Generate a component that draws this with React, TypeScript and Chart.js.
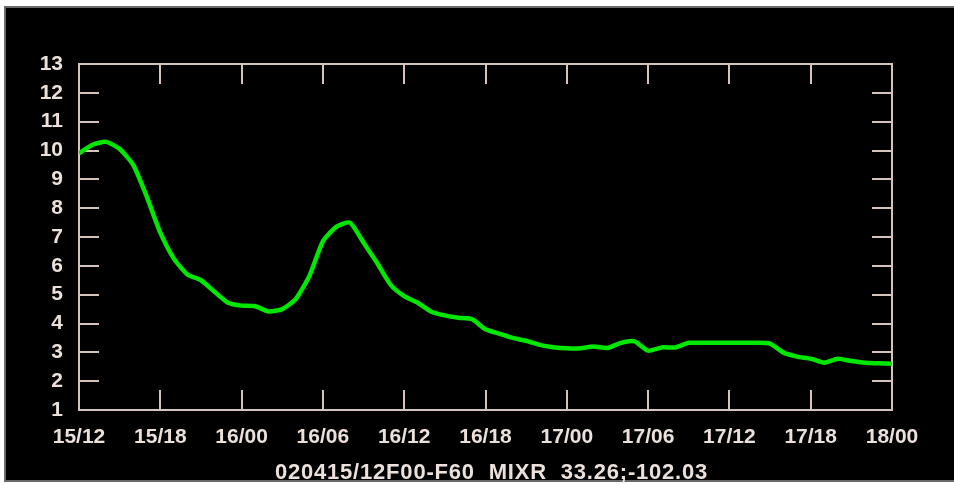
import React, { useEffect, useRef } from "react";
import { Chart, registerables } from "chart.js";

Chart.register(...registerables);

// Forecast hours F00..F60 (hourly) of mixing ratio (g/kg)
const mixr: number[] = [
  9.9, 10.2, 10.3, 10.05, 9.5, 8.4, 7.15, 6.25, 5.7, 5.5,
  5.1, 4.72, 4.62, 4.6, 4.42, 4.5, 4.85, 5.65, 6.85, 7.36,
  7.5, 6.8, 6.1, 5.34, 4.95, 4.72, 4.41, 4.28, 4.2, 4.15,
  3.8, 3.65, 3.5, 3.4, 3.26, 3.18, 3.14, 3.14, 3.2, 3.15,
  3.33, 3.38, 3.06, 3.17, 3.17, 3.33, 3.33, 3.33, 3.33, 3.33,
  3.33, 3.3, 2.99, 2.85, 2.78, 2.64, 2.78, 2.7, 2.64, 2.62,
  2.6,
];
const timeLabels: string[] = [
  "15/12", "15/18", "16/00", "16/06", "16/12", "16/18",
  "17/00", "17/06", "17/12", "17/18", "18/00",
];
const titleText = "020415/12F00-F60  MIXR  33.26;-102.03";

const FRAME = "#d6c4bc";
const LABEL = "#ece0da";
const GREEN = "#00e800";
const FONT = "'Liberation Sans', Arial, sans-serif";

export default function App() {
  const ref = useRef<HTMLCanvasElement | null>(null);
  useEffect(() => {
    if (!ref.current) return;
    const framePlugin = {
      id: "frame",
      beforeDraw(chart: any) {
        const { ctx, width, height } = chart;
        ctx.save();
        ctx.fillStyle = "#ffffff";
        ctx.fillRect(0, 0, width, height);
        ctx.fillStyle = "#000000";
        ctx.fillRect(5, 7, width - 5, 474);
        ctx.strokeStyle = "#6a6a6a";
        ctx.lineWidth = 2;
        ctx.strokeRect(5, 7, width + 5, 474);
        ctx.restore();
      },
      beforeDatasetsDraw(chart: any) {
        const { ctx, chartArea, scales } = chart;
        const { left, top, right, bottom } = chartArea;
        const x = scales.x;
        const y = scales.y;
        ctx.save();
        ctx.strokeStyle = FRAME;
        ctx.lineWidth = 2;
        ctx.strokeRect(left, top, right - left, bottom - top);
        ctx.beginPath();
        x.ticks.forEach((t: any) => {
          if (t.value <= x.min || t.value >= x.max) return;
          const px = Math.round(x.getPixelForValue(t.value));
          ctx.moveTo(px, bottom);
          ctx.lineTo(px, bottom - 20);
          ctx.moveTo(px, top);
          ctx.lineTo(px, top + 20);
        });
        y.ticks.forEach((t: any) => {
          if (t.value <= y.min || t.value >= y.max) return;
          const py = Math.round(y.getPixelForValue(t.value));
          ctx.moveTo(left, py);
          ctx.lineTo(left + 20, py);
          ctx.moveTo(right, py);
          ctx.lineTo(right - 20, py);
        });
        ctx.stroke();
        ctx.restore();
      },
      afterDraw(chart: any) {
        const { ctx, chartArea } = chart;
        ctx.save();
        ctx.fillStyle = LABEL;
        ctx.font = `bold 22px ${FONT}`;
        (ctx as any).letterSpacing = "0.8px";
        ctx.textAlign = "center";
        ctx.textBaseline = "middle";
        ctx.fillText(titleText, (chartArea.left + chartArea.right) / 2 + 6, chartArea.bottom + 63);
        ctx.restore();
      },
    };

    const chart = new Chart(ref.current, {
      type: "line",
      data: {
        datasets: [
          {
            data: mixr.map((v, i) => ({ x: i, y: v })),
            borderColor: GREEN,
            borderWidth: 4.5,
            pointRadius: 0,
            tension: 0.2,
            fill: false,
          },
        ],
      },
      options: {
        animation: false,
        responsive: false,
        devicePixelRatio: 1,
        layout: { padding: { left: 0, top: 64, right: 62, bottom: 0 } },
        plugins: { legend: { display: false }, tooltip: { enabled: false }, title: { display: false } },
        scales: {
          x: {
            type: "linear",
            min: 0,
            max: 60,
            grid: { display: false, drawTicks: false },
            border: { display: false },
            ticks: {
              stepSize: 6,
              autoSkip: false,
              maxRotation: 0,
              padding: 15,
              color: LABEL,
              font: { family: FONT, size: 21, weight: "bold" },
              callback: (v: any) => timeLabels[Math.round(Number(v) / 6)] ?? "",
            },
            afterFit: (s: any) => {
              s.height = 75;
            },
          },
          y: {
            min: 1,
            max: 13,
            grid: { display: false, drawTicks: false },
            border: { display: false },
            ticks: {
              stepSize: 1,
              autoSkip: false,
              padding: 16,
              color: LABEL,
              font: { family: FONT, size: 21, weight: "bold" },
            },
            afterFit: (s: any) => {
              s.width = 79;
            },
          },
        },
      },
      plugins: [framePlugin],
    });
    return () => chart.destroy();
  }, []);

  return (
    <div style={{ position: "absolute", left: 0, top: 0, width: 954, height: 485 }}>
      <canvas ref={ref} width={954} height={485} style={{ display: "block" }} />
    </div>
  );
}
